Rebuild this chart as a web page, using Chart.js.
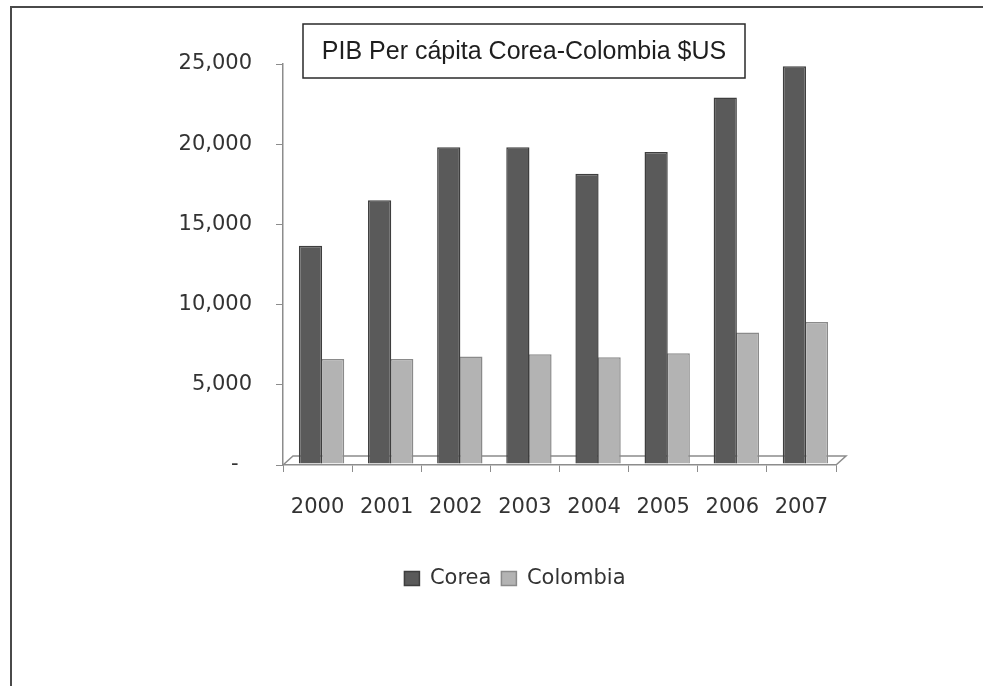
<!DOCTYPE html>
<html><head><meta charset="utf-8">
<script src="https://cdn.jsdelivr.net/npm/chart.js@4/dist/chart.umd.min.js"></script>
<style>html,body{margin:0;padding:0;background:#fff;overflow:hidden}#wrap{position:relative;width:983px;height:686px}</style>
</head><body><div id="wrap"><canvas id="c" width="983" height="686"></canvas></div>
<script>
const chartTitle = 'PIB Per cápita Corea-Colombia $US';
const years = ['2000', '2001', '2002', '2003', '2004', '2005', '2006', '2007'];
const coreaValues = [13600, 16450, 19750, 19750, 18100, 19450, 22850, 24800];
const colombiaValues = [6550, 6550, 6700, 6850, 6650, 6900, 8200, 8850];
const yTickLabels = ['-  ', '5,000', '10,000', '15,000', '20,000', '25,000'];
const seriesNames = ['Corea', 'Colombia'];

const FONT = '"DejaVu Sans", Verdana, sans-serif';

const decor = {
  id: 'decor',
  afterLayout(chart) {
    // nudge the legend to sit under the plot like the reference
    if (chart.legend) { chart.legend.left += 8; chart.legend.right += 8; }
  },
  beforeDraw(chart) {
    const {ctx, width, height} = chart;
    ctx.save();
    ctx.fillStyle = '#ffffff';
    ctx.fillRect(0, 0, width, height);
    ctx.strokeStyle = '#4a4a4a';
    ctx.lineWidth = 2;
    ctx.beginPath();
    ctx.moveTo(11, height);
    ctx.lineTo(11, 7);
    ctx.lineTo(width, 7);
    ctx.stroke();
    ctx.restore();
  },
  beforeDatasetsDraw(chart) {
    const {ctx, chartArea: a} = chart;
    ctx.save();
    ctx.strokeStyle = '#8c8c8c';
    ctx.lineWidth = 1.5;
    ctx.beginPath();
    ctx.moveTo(a.left, a.bottom);
    ctx.lineTo(a.left + 10, a.bottom - 9);
    ctx.lineTo(a.right + 10, a.bottom - 9);
    ctx.lineTo(a.right, a.bottom);
    ctx.stroke();
    ctx.restore();
    ctx.save();
    ctx.translate(4, -1); // 3D depth offset of the bars
  },
  afterDatasetsDraw(chart) {
    chart.ctx.restore();
  },
  afterDraw(chart) {
    const {ctx} = chart;
    ctx.save();
    ctx.fillStyle = '#ffffff';
    ctx.fillRect(303, 24, 442, 54);
    ctx.strokeStyle = '#2a2a2a';
    ctx.lineWidth = 1.5;
    ctx.strokeRect(303, 24, 442, 54);
    ctx.fillStyle = '#1e1e1e';
    ctx.font = '25px "Liberation Sans", Arial, sans-serif';
    ctx.textAlign = 'center';
    ctx.textBaseline = 'middle';
    ctx.fillText(chartTitle, 524, 52);
    ctx.restore();
  }
};

new Chart(document.getElementById('c'), {
  type: 'bar',
  data: {
    labels: years,
    datasets: [
      {label: seriesNames[0], data: coreaValues, backgroundColor: '#5a5a5a', borderColor: '#3e3e3e', borderWidth: 1.5},
      {label: seriesNames[1], data: colombiaValues, backgroundColor: '#b3b3b3', borderColor: '#8a8a8a', borderWidth: 1.5}
    ]
  },
  options: {
    responsive: false,
    animation: false,
    events: [],
    categoryPercentage: 0.64,
    barPercentage: 1.05,
    layout: {padding: {left: 178, right: 147, top: 64, bottom: 87}},
    plugins: {
      title: {display: false},
      tooltip: {enabled: false},
      legend: {
        position: 'bottom',
        labels: {
          boxWidth: 15, boxHeight: 14, padding: 10,
          color: '#333333',
          font: {family: FONT, size: 21}
        }
      }
    },
    scales: {
      x: {
        afterFit(s) { s.height = 93; },
        border: {display: true, color: '#8c8c8c', width: 1.5},
        grid: {display: true, drawOnChartArea: false, drawTicks: true, tickLength: 7, color: '#8c8c8c', offset: true},
        ticks: {color: '#333333', padding: 23, font: {family: FONT, size: 21}}
      },
      y: {
        min: 0, max: 25000,
        afterFit(s) { s.width = 105; },
        border: {display: true, color: '#8c8c8c', width: 1.5},
        grid: {display: true, drawOnChartArea: false, drawTicks: true, tickLength: 7, color: '#8c8c8c'},
        ticks: {
          stepSize: 5000, padding: 24, color: '#333333',
          font: {family: FONT, size: 21},
          callback: (v, i) => yTickLabels[i]
        }
      }
    }
  },
  plugins: [decor]
});
</script></body></html>
